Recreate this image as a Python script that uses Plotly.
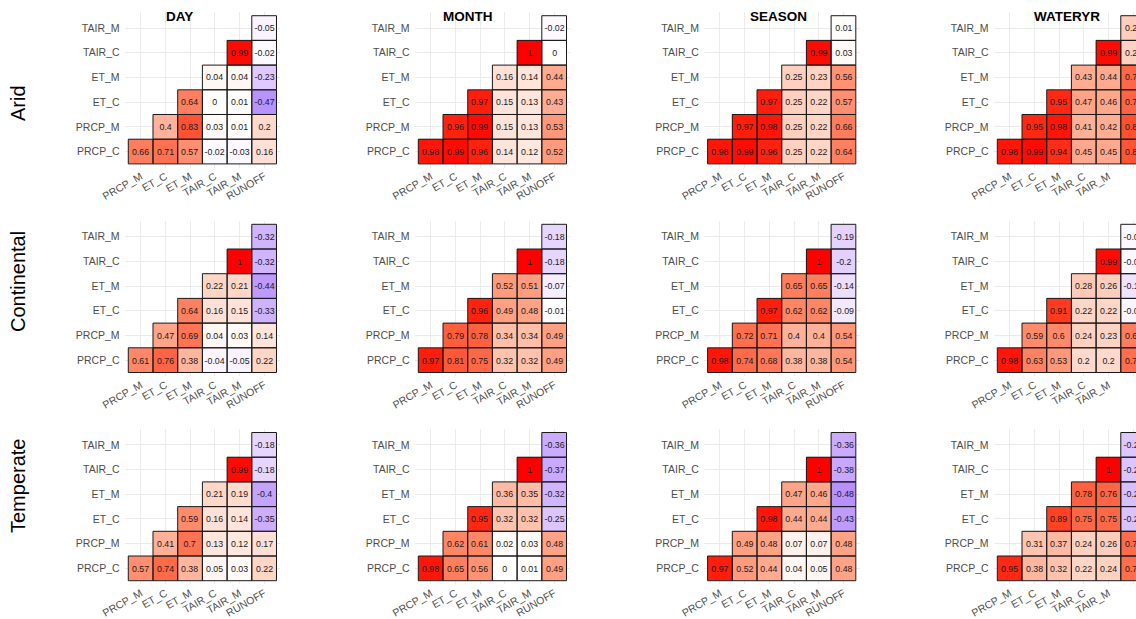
import numpy as np
import plotly.graph_objects as go

# ---------------- data ----------------
regions = ["Arid", "Continental", "Temperate"]
scales = ["DAY", "MONTH", "SEASON", "WATERYR"]
x_labels = ["PRCP_M", "ET_C", "ET_M", "TAIR_C", "TAIR_M", "RUNOFF"]
y_labels = ["PRCP_C", "PRCP_M", "ET_C", "ET_M", "TAIR_C", "TAIR_M"]

# each panel: rows from PRCP_C (bottom) to TAIR_M (top); row k holds columns k..5
arid_day = [[0.66, 0.71, 0.57, -0.02, -0.03, 0.16],
            [0.4, 0.83, 0.03, 0.01, 0.2],
            [0.64, 0, 0.01, -0.47],
            [0.04, 0.04, -0.23],
            [0.99, -0.02],
            [-0.05]]
arid_month = [[0.98, 0.99, 0.96, 0.14, 0.12, 0.52],
              [0.96, 0.99, 0.15, 0.13, 0.53],
              [0.97, 0.15, 0.13, 0.43],
              [0.16, 0.14, 0.44],
              [1, 0],
              [-0.02]]
arid_season = [[0.98, 0.99, 0.96, 0.25, 0.22, 0.64],
               [0.97, 0.98, 0.25, 0.22, 0.66],
               [0.97, 0.25, 0.22, 0.57],
               [0.25, 0.23, 0.56],
               [0.99, 0.03],
               [0.01]]
arid_wateryr = [[0.98, 0.99, 0.94, 0.45, 0.45, 0.82],
                [0.95, 0.98, 0.41, 0.42, 0.84],
                [0.95, 0.47, 0.46, 0.76],
                [0.43, 0.44, 0.75],
                [0.99, 0.24],
                [0.26]]
cont_day = [[0.61, 0.76, 0.38, -0.04, -0.05, 0.22],
            [0.47, 0.69, 0.04, 0.03, 0.14],
            [0.64, 0.16, 0.15, -0.33],
            [0.22, 0.21, -0.44],
            [1, -0.32],
            [-0.32]]
cont_month = [[0.97, 0.81, 0.75, 0.32, 0.32, 0.49],
              [0.79, 0.78, 0.34, 0.34, 0.49],
              [0.96, 0.49, 0.48, -0.01],
              [0.52, 0.51, -0.07],
              [1, -0.18],
              [-0.18]]
cont_season = [[0.98, 0.74, 0.68, 0.38, 0.38, 0.54],
               [0.72, 0.71, 0.4, 0.4, 0.54],
               [0.97, 0.62, 0.62, -0.09],
               [0.65, 0.65, -0.14],
               [1, -0.2],
               [-0.19]]
cont_wateryr = [[0.98, 0.63, 0.53, 0.2, 0.2, 0.72],
                [0.59, 0.6, 0.24, 0.23, 0.66],
                [0.91, 0.22, 0.22, -0.04],
                [0.28, 0.26, -0.12],
                [0.99, -0.03],
                [-0.03]]
temp_day = [[0.57, 0.74, 0.38, 0.05, 0.03, 0.22],
            [0.41, 0.7, 0.13, 0.12, 0.17],
            [0.59, 0.16, 0.14, -0.35],
            [0.21, 0.19, -0.4],
            [0.99, -0.18],
            [-0.18]]
temp_month = [[0.98, 0.65, 0.56, 0, 0.01, 0.49],
              [0.62, 0.61, 0.02, 0.03, 0.48],
              [0.95, 0.32, 0.32, -0.25],
              [0.36, 0.35, -0.32],
              [1, -0.37],
              [-0.36]]
temp_season = [[0.97, 0.52, 0.44, 0.04, 0.05, 0.48],
               [0.49, 0.48, 0.07, 0.07, 0.48],
               [0.98, 0.44, 0.44, -0.43],
               [0.47, 0.46, -0.48],
               [1, -0.38],
               [-0.36]]
temp_wateryr = [[0.95, 0.38, 0.32, 0.22, 0.24, 0.72],
                [0.31, 0.37, 0.24, 0.26, 0.73],
                [0.89, 0.75, 0.75, -0.26],
                [0.78, 0.76, -0.28],
                [1, -0.25],
                [-0.24]]

panels = [[arid_day, arid_month, arid_season, arid_wateryr],
          [cont_day, cont_month, cont_season, cont_wateryr],
          [temp_day, temp_month, temp_season, temp_wateryr]]

# ---------------- colour scale (Lab interpolation blue-white-red) ----------------
def _lin(c):
    c = c / 255.0
    return c / 12.92 if c <= 0.04045 else ((c + 0.055) / 1.055) ** 2.4

def _gam(c):
    c = 12.92 * c if c <= 0.0031308 else 1.055 * c ** (1 / 2.4) - 0.055
    return int(round(min(max(c, 0), 1) * 255))

M = np.array([[0.4124, 0.3576, 0.1805], [0.2126, 0.7152, 0.0722], [0.0193, 0.1192, 0.9505]])
Minv = np.linalg.inv(M)
WP = np.array([0.95047, 1.0, 1.08883])

def rgb2lab(rgb):
    xyz = M @ np.array([_lin(c) for c in rgb]) / WP
    f = np.where(xyz > 216 / 24389, np.cbrt(xyz), (24389 / 27 * xyz + 16) / 116)
    return np.array([116 * f[1] - 16, 500 * (f[0] - f[1]), 200 * (f[1] - f[2])])

def lab2rgb(lab):
    fy = (lab[0] + 16) / 116
    fx = fy + lab[1] / 500
    fz = fy - lab[2] / 200
    f = np.array([fx, fy, fz])
    xyz = np.where(f ** 3 > 216 / 24389, f ** 3, (116 * f - 16) / (24389 / 27)) * WP
    lin = Minv @ xyz
    return tuple(_gam(c) for c in lin)

lab_low = rgb2lab((0, 0, 255))
lab_mid = rgb2lab((255, 255, 255))
lab_high = rgb2lab((255, 0, 0))
colorscale = []
for v in np.linspace(-1, 1, 81):
    t = abs(v)
    end = lab_low if v < 0 else lab_high
    r, g, b = lab2rgb(lab_mid + (end - lab_mid) * t)
    colorscale.append([(v + 1) / 2, f"rgb({r},{g},{b})"])

# ---------------- layout geometry ----------------
W, H = 1136, 619
s = 24.7
col_left = [128.3, 418.3, 707.6, 997.3]
row_top = [15.7, 224.3, 432.5]
pad = 0.15
title_x = [179, 468, 779, 1067]
region_y = [103, 282, 486]

fig = go.Figure()
layout = dict(width=W, height=H, autosize=False, margin=dict(l=0, r=0, t=0, b=0, pad=0),
              plot_bgcolor="white", paper_bgcolor="white", showlegend=False)
shapes = []
annotations = []
axis_font = dict(family="Liberation Sans, Arial, sans-serif", size=10.5, color="#4D4D4D")

idx = 0
for r in range(3):
    for c in range(4):
        idx += 1
        data = panels[r][c]
        Z = np.full((6, 6), np.nan)
        T = [["" for _ in range(6)] for _ in range(6)]
        for yk, row in enumerate(data):
            for j, v in enumerate(row):
                xk = yk + j
                Z[yk, xk] = v
                T[yk][xk] = f"{v:g}"
        xa = "x" if idx == 1 else f"x{idx}"
        ya = "y" if idx == 1 else f"y{idx}"
        fig.add_trace(go.Heatmap(z=Z, x=list(range(6)), y=list(range(6)), text=T,
                                 texttemplate="%{text}",
                                 textfont=dict(family="Liberation Sans, Arial, sans-serif", size=8.8, color="#1a1a1a"),
                                 colorscale=colorscale, zmin=-1, zmax=1, showscale=False,
                                 hoverongaps=False, xaxis=xa, yaxis=ya))
        left = col_left[c]
        top = row_top[r]
        x0 = left - pad * s
        x1 = left + 6 * s + pad * s
        xr = [-0.5 - pad, 5.5 + pad]
        if x1 > W:
            x1 = W
            xr = [-0.5 - pad, -0.5 + (W - left) / s]
        y0 = top - pad * s
        y1 = top + 6 * s + pad * s
        key_x = "xaxis" if idx == 1 else f"xaxis{idx}"
        key_y = "yaxis" if idx == 1 else f"yaxis{idx}"
        layout[key_x] = dict(domain=[x0 / W, x1 / W], range=xr, anchor=ya, automargin=False,
                             tickmode="array", tickvals=list(range(6)), ticktext=x_labels,
                             tickangle=-30, tickfont=axis_font, showgrid=True,
                             gridcolor="#EBEBEB", gridwidth=1, zeroline=False,
                             showline=False, ticks="", fixedrange=True)
        layout[key_y] = dict(domain=[1 - y1 / H, 1 - y0 / H], range=[-0.5 - pad, 5.5 + pad],
                             anchor=xa, automargin=False, tickmode="array", tickvals=list(range(6)),
                             ticktext=y_labels, tickfont=axis_font, showgrid=True,
                             gridcolor="#EBEBEB", gridwidth=1, zeroline=False,
                             showline=False, ticks="", ticklabelstandoff=4, fixedrange=True)
        for yk, row in enumerate(data):
            for j, v in enumerate(row):
                xk = yk + j
                shapes.append(dict(type="rect", xref=xa, yref=ya,
                                   x0=xk - 0.5, x1=xk + 0.5, y0=yk - 0.5, y1=yk + 0.5,
                                   line=dict(color="#1a1a1a", width=1),
                                   fillcolor="rgba(0,0,0,0)", layer="above"))

for c, name in enumerate(scales):
    annotations.append(dict(text=f"<b>{name}</b>", x=title_x[c] / W, y=1 - 17 / H,
                            xref="paper", yref="paper", showarrow=False,
                            xanchor="center", yanchor="middle",
                            font=dict(family="Liberation Sans, Arial, sans-serif", size=13.5, color="black")))
for r, name in enumerate(regions):
    annotations.append(dict(text=name, x=18 / W, y=1 - region_y[r] / H,
                            xref="paper", yref="paper", showarrow=False, textangle=-90,
                            xanchor="center", yanchor="middle",
                            font=dict(family="Liberation Sans, Arial, sans-serif", size=20, color="black")))

layout["shapes"] = shapes
layout["annotations"] = annotations
fig.update_layout(**layout)
fig.write_html("out.html", config={"displayModeBar": False},
               post_script="document.body.style.margin='0px';document.body.style.overflow='hidden';")
